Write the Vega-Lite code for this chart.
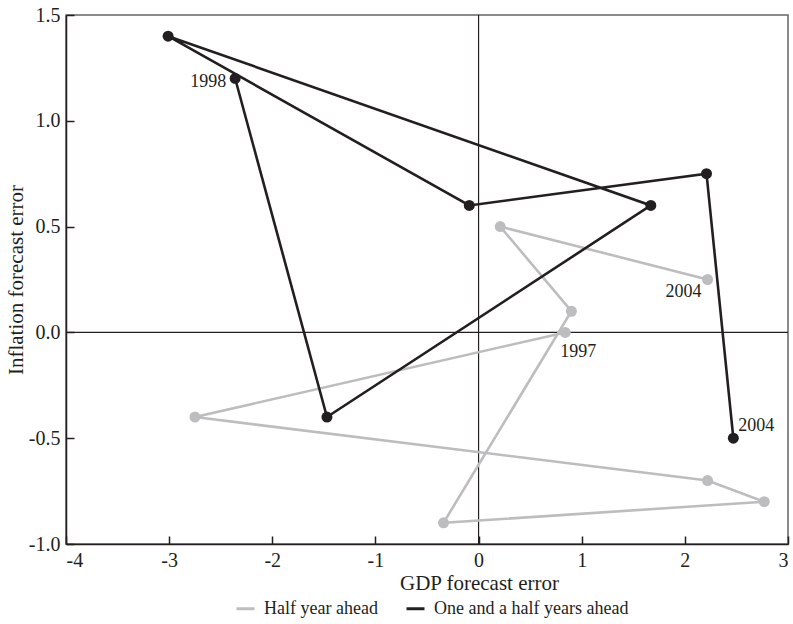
{
  "$schema": "https://vega.github.io/schema/vega-lite/v6.json",
  "width": 722,
  "height": 529,
  "autosize": {"type": "none"},
  "padding": {"left": 66, "top": 15, "right": 5, "bottom": 80},
  "background": "white",
  "config": {
    "font": "Liberation Serif",
    "view": {"stroke": "#666666", "strokeWidth": 1.5},
    "axis": {
      "grid": false,
      "domainColor": "#231f20",
      "domainWidth": 1.5,
      "tickColor": "#231f20",
      "tickWidth": 1.5,
      "tickSize": -8,
      "labelFontSize": 20,
      "labelColor": "#231f20",
      "labelPadding": 14,
      "titleFontSize": 21,
      "titleFontWeight": "normal",
      "titleColor": "#231f20"
    }
  },
  "datasets": {
    "pts": [
      {"series": "Half year ahead", "year": 1997, "gdp": 0.84, "infl": 0.0, "label": "1997"},
      {"series": "Half year ahead", "year": 1998, "gdp": -2.75, "infl": -0.4, "label": ""},
      {"series": "Half year ahead", "year": 1999, "gdp": 2.22, "infl": -0.7, "label": ""},
      {"series": "Half year ahead", "year": 2000, "gdp": 2.77, "infl": -0.8, "label": ""},
      {"series": "Half year ahead", "year": 2001, "gdp": -0.34, "infl": -0.9, "label": ""},
      {"series": "Half year ahead", "year": 2002, "gdp": 0.9, "infl": 0.1, "label": ""},
      {"series": "Half year ahead", "year": 2003, "gdp": 0.21, "infl": 0.5, "label": ""},
      {"series": "Half year ahead", "year": 2004, "gdp": 2.22, "infl": 0.25, "label": "2004"},
      {"series": "One and a half years ahead", "year": 1998, "gdp": -2.36, "infl": 1.2, "label": "1998"},
      {"series": "One and a half years ahead", "year": 1999, "gdp": -1.47, "infl": -0.4, "label": ""},
      {"series": "One and a half years ahead", "year": 2000, "gdp": 1.67, "infl": 0.6, "label": ""},
      {"series": "One and a half years ahead", "year": 2001, "gdp": -3.01, "infl": 1.4, "label": ""},
      {"series": "One and a half years ahead", "year": 2002, "gdp": -0.09, "infl": 0.6, "label": ""},
      {"series": "One and a half years ahead", "year": 2003, "gdp": 2.21, "infl": 0.75, "label": ""},
      {"series": "One and a half years ahead", "year": 2004, "gdp": 2.47, "infl": -0.5, "label": "2004"}
    ],
    "zeros": [{"v": 0}]
  },
  "layer": [
    {
      "data": {"name": "zeros"},
      "mark": {"type": "rule", "color": "#231f20", "strokeWidth": 1.2},
      "encoding": {"x": {"field": "v", "type": "quantitative", "scale": {"domain": [-4, 3]}}}
    },
    {
      "data": {"name": "zeros"},
      "mark": {"type": "rule", "color": "#231f20", "strokeWidth": 1.2},
      "encoding": {"y": {"field": "v", "type": "quantitative", "scale": {"domain": [-1, 1.5]}}}
    },
    {
      "data": {"name": "pts"},
      "mark": {"type": "line", "strokeWidth": 2.6},
      "encoding": {
        "x": {"field": "gdp", "type": "quantitative", "scale": {"domain": [-4, 3], "nice": false, "zero": false},
          "axis": {"values": [-4, -3, -2, -1, 0, 1, 2, 3], "labelExpr": "replace(format(datum.value, 'd'), '\u2212', '-')", "title": "GDP forecast error", "titlePadding": 2, "titleX": 413, "titleAlign": "center"}},
        "y": {"field": "infl", "type": "quantitative", "scale": {"domain": [-1, 1.5], "nice": false, "zero": false},
          "axis": {"values": [-1, -0.5, 0, 0.5, 1, 1.5], "labelExpr": "replace(format(datum.value, '.1f'), '\u2212', '-')", "title": "Inflation forecast error", "titlePadding": 2}},
        "color": {"field": "series", "type": "nominal",
          "scale": {"domain": ["Half year ahead", "One and a half years ahead"], "range": ["#bdbdbf", "#231f20"]},
          "legend": {"orient": "none", "legendX": 169, "legendY": 583, "direction": "horizontal", "title": null,
            "symbolType": "stroke", "symbolStrokeWidth": 3, "symbolSize": 324, "labelFontSize": 18, "labelLimit": 0, "labelOffset": 8, "labelColor": "#231f20", "columnPadding": 22}},
        "detail": {"field": "series"},
        "order": {"field": "year", "type": "quantitative"}
      }
    },
    {
      "data": {"name": "pts"},
      "mark": {"type": "circle", "size": 121, "opacity": 1},
      "encoding": {
        "x": {"field": "gdp", "type": "quantitative"},
        "y": {"field": "infl", "type": "quantitative"},
        "color": {"field": "series", "type": "nominal", "legend": null}
      }
    },
    {
      "data": {"name": "pts"},
      "transform": [{"filter": "datum.label == '1998'"}],
      "mark": {"type": "text", "align": "right", "baseline": "middle", "dx": -9, "dy": 4, "fontSize": 18, "color": "#231f20"},
      "encoding": {"x": {"field": "gdp", "type": "quantitative"}, "y": {"field": "infl", "type": "quantitative"}, "text": {"field": "label"}}
    },
    {
      "data": {"name": "pts"},
      "transform": [{"filter": "datum.label == '1997'"}],
      "mark": {"type": "text", "align": "left", "baseline": "middle", "dx": -5, "dy": 20, "fontSize": 18, "color": "#231f20"},
      "encoding": {"x": {"field": "gdp", "type": "quantitative"}, "y": {"field": "infl", "type": "quantitative"}, "text": {"field": "label"}}
    },
    {
      "data": {"name": "pts"},
      "transform": [{"filter": "datum.label == '2004' && datum.series == 'Half year ahead'"}],
      "mark": {"type": "text", "align": "right", "baseline": "middle", "dx": -6, "dy": 12, "fontSize": 18, "color": "#231f20"},
      "encoding": {"x": {"field": "gdp", "type": "quantitative"}, "y": {"field": "infl", "type": "quantitative"}, "text": {"field": "label"}}
    },
    {
      "data": {"name": "pts"},
      "transform": [{"filter": "datum.label == '2004' && datum.series == 'One and a half years ahead'"}],
      "mark": {"type": "text", "align": "left", "baseline": "middle", "dx": 5, "dy": -12, "fontSize": 18, "color": "#231f20"},
      "encoding": {"x": {"field": "gdp", "type": "quantitative"}, "y": {"field": "infl", "type": "quantitative"}, "text": {"field": "label"}}
    }
  ]
}
